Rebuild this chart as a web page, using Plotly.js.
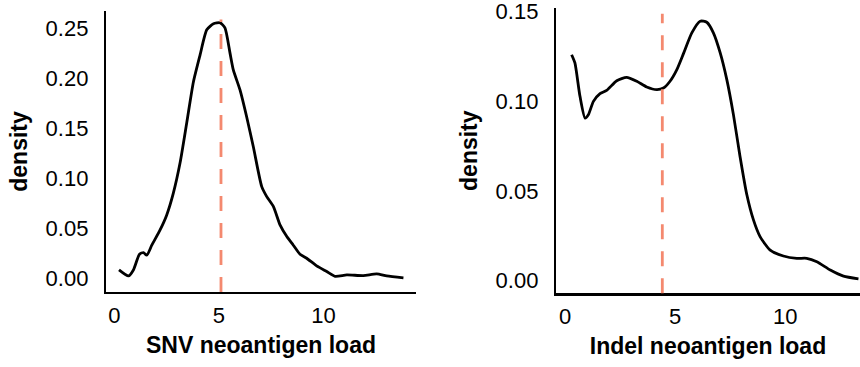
<!DOCTYPE html>
<html>
<head>
<meta charset="utf-8">
<script src="https://cdn.plot.ly/plotly-3.0.1.min.js"></script>
<style>html,body{margin:0;padding:0;background:#fff;}#chart{width:860px;height:367px;}</style>
</head>
<body>
<div id="chart"></div>
<script>
// SNV neoantigen load density (left panel)
const snvX = [0.22,0.67,0.91,1.20,1.39,1.55,1.79,2.18,2.50,2.82,3.14,3.46,3.78,4.10,4.42,4.74,5.06,5.29,5.53,5.69,6.01,6.33,6.65,7.05,7.29,7.61,7.93,8.25,8.56,8.88,9.20,9.68,10.16,10.56,11.12,11.91,12.55,13.03,13.83];
const snvY = [0.0083,0.0023,0.0083,0.024,0.0256,0.023,0.033,0.048,0.063,0.085,0.115,0.155,0.196,0.223,0.248,0.254,0.255,0.250,0.225,0.208,0.188,0.161,0.131,0.0915,0.0815,0.0715,0.053,0.0416,0.033,0.024,0.020,0.0123,0.0067,0.002,0.0033,0.0027,0.0043,0.0023,0.0003];
const snvMedian = 5.1;

// Indel neoantigen load density (right panel)
const indelX = [0.30,0.45,0.68,0.91,1.06,1.29,1.59,1.89,2.35,2.80,3.26,3.71,4.17,4.47,4.77,5.08,5.38,5.76,6.14,6.44,6.74,7.05,7.35,7.65,7.95,8.26,8.56,8.86,9.32,9.92,10.53,10.98,11.44,12.05,12.65,13.33];
const indelY = [0.126,0.1214,0.1028,0.0907,0.0925,0.100,0.1043,0.1061,0.1115,0.1134,0.1112,0.108,0.1065,0.1074,0.1112,0.1177,0.1266,0.1382,0.1447,0.1441,0.1382,0.127,0.1121,0.0926,0.0693,0.0479,0.0339,0.0246,0.0171,0.0138,0.0125,0.0125,0.0106,0.006,0.0026,0.0011];
const indelMedian = 4.42;

const xTicks = [0, 5, 10];
const snvYTicks = [0, 0.05, 0.10, 0.15, 0.20, 0.25];
const snvYTickText = ['0.00','0.05','0.10','0.15','0.20','0.25'];
const indelYTicks = [0, 0.05, 0.10, 0.15];
const indelYTickText = ['0.00','0.05','0.10','0.15'];
const xTitles = ['SNV neoantigen load', 'Indel neoantigen load'];
const yTitle = 'density';

const FONT = '"Liberation Sans", Arial, Helvetica, sans-serif';
const tickFont = {family: FONT, size: 22, color: '#000'};
const titleFont = {family: FONT, size: 23, color: '#000', weight: 'bold'};

const traces = [
  {x: snvX, y: snvY, xaxis: 'x', yaxis: 'y', mode: 'lines', line: {color: '#000', width: 2.8, shape: 'spline', smoothing: 0.6}, hoverinfo: 'skip'},
  {x: indelX, y: indelY, xaxis: 'x2', yaxis: 'y2', mode: 'lines', line: {color: '#000', width: 2.8, shape: 'spline', smoothing: 0.6}, hoverinfo: 'skip'}
];

function xAxis(domain, range, title, anchor) {
  return {domain: domain, range: range, anchor: anchor, tickvals: xTicks, ticktext: xTicks.map(String),
    showgrid: false, zeroline: false, showline: true, linecolor: '#000', linewidth: 2.2,
    ticks: 'outside', ticklen: 2, tickcolor: 'rgba(0,0,0,0)', tickfont: tickFont, ticklabeloverflow: 'allow',
    title: {text: title, font: titleFont, standoff: 10}};
}
function yAxis(domain, range, vals, text, anchor) {
  return {domain: domain, range: range, anchor: anchor, tickvals: vals, ticktext: text,
    showgrid: false, zeroline: false, showline: true, linecolor: '#000', linewidth: 2.2,
    ticks: 'outside', ticklen: 11, tickcolor: 'rgba(0,0,0,0)', tickfont: tickFont, ticklabeloverflow: 'allow',
    title: {text: yTitle, font: titleFont, standoff: 12}};
}

const layout = {
  width: 860, height: 367,
  margin: {l: 0, r: 0, t: 0, b: 0},
  paper_bgcolor: '#fff', plot_bgcolor: '#fff',
  showlegend: false,
  xaxis: xAxis([0.1233, 0.4837], [-0.4, 14.43], xTitles[0], 'y'),
  yaxis: yAxis([0.2044, 0.970], [-0.0137, 0.2668], snvYTicks, snvYTickText, 'x'),
  xaxis2: xAxis([0.6465, 1.0], [-0.41, 13.4], xTitles[1], 'y2'),
  yaxis2: yAxis([0.2008, 0.978], [-0.007, 0.152], indelYTicks, indelYTickText, 'x2'),
  shapes: [
    {type: 'line', xref: 'x', yref: 'y domain', x0: snvMedian, x1: snvMedian, y0: 0, y1: 0.97, line: {color: '#F4896F', width: 2.8, dash: '15px,12px'}},
    {type: 'line', xref: 'x2', yref: 'y2 domain', x0: indelMedian, x1: indelMedian, y0: 0, y1: 0.98, line: {color: '#F4896F', width: 2.8, dash: '15px,12px'}}
  ]
};

Plotly.newPlot('chart', traces, layout, {staticPlot: true, displayModeBar: false});
</script>
</body>
</html>
